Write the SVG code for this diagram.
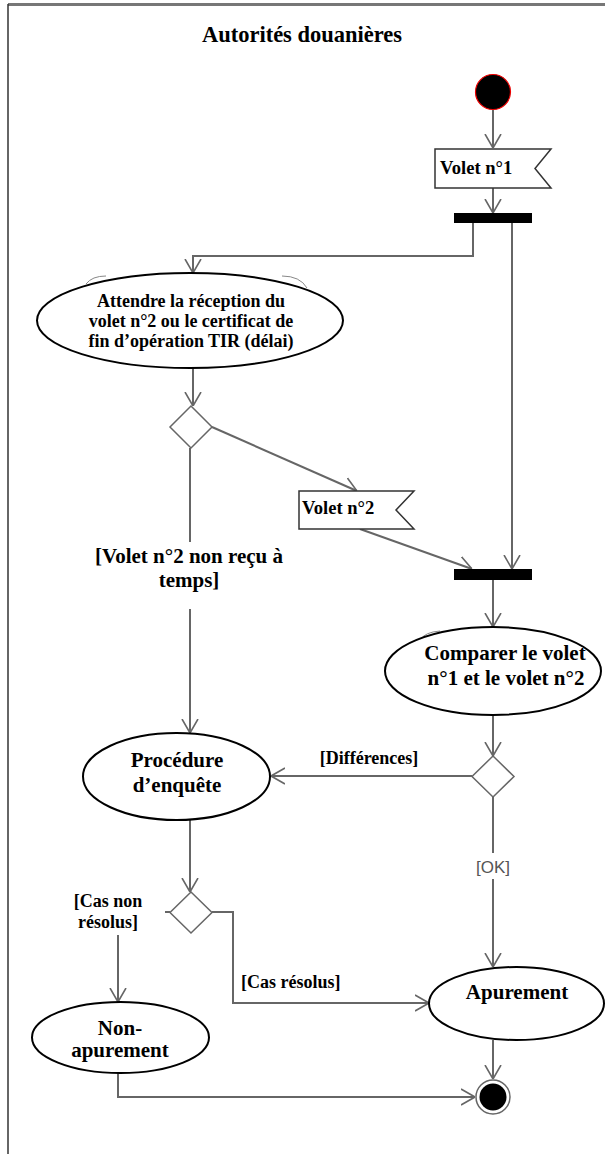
<svg xmlns="http://www.w3.org/2000/svg" width="605" height="1154" viewBox="0 0 605 1154">
  <style>
    .lbl { font-family: "Liberation Serif", "Times New Roman", serif; font-weight: bold; fill: #000; }
    .s18 { font-size: 18px; }
    .s185 { font-size: 18.6px; }
    .s21 { font-size: 21px; }
    .act { fill: #fff; stroke: #000; stroke-width: 2; }
    .ghost { fill: none; stroke: #888; stroke-width: 1; }
    .flow { fill: none; stroke: #666; stroke-width: 2; }
    .bar { fill: #000; }
    .dec { fill: #fff; stroke: #666; stroke-width: 1.5; }
    .sig { fill: #fff; stroke: #333; stroke-width: 1.5; }
    .guard { font-family: "Liberation Sans", Arial, sans-serif; font-size: 17px; fill: #555; }
  </style>
  <defs>
    <marker id="open" viewBox="0 0 14 18" refX="14" refY="9" markerWidth="14" markerHeight="18" markerUnits="userSpaceOnUse" orient="auto">
      <path d="M0,1 L14,9 L0,17" fill="none" stroke="#666" stroke-width="1.6"/>
    </marker>
  </defs>

  <rect width="605" height="1154" fill="#fff"/>

  <!-- swimlane frame -->
  <g id="frame">
    <line x1="8" y1="4.5" x2="605" y2="4.5" stroke="#777" stroke-width="3"/>
    <line x1="8" y1="4" x2="8" y2="1154" stroke="#333" stroke-width="1.5"/>
    <text class="lbl" x="302" y="42" font-size="22.5" text-anchor="middle">Autorités douanières</text>
  </g>

  <!-- connectors -->
  <g id="connectors">
    <line class="flow" x1="493" y1="110" x2="493" y2="148" marker-end="url(#open)"/>
    <line class="flow" x1="493" y1="188" x2="493" y2="213" marker-end="url(#open)"/>
    <path class="flow" d="M473,223 V256 H193 V273" marker-end="url(#open)"/>
    <line class="flow" x1="512" y1="223" x2="512" y2="569" marker-end="url(#open)"/>
    <line class="flow" x1="193" y1="368" x2="193" y2="406" marker-end="url(#open)"/>
    <line class="flow" x1="212" y1="427" x2="357" y2="491" marker-end="url(#open)"/>
    <line class="flow" x1="360" y1="529" x2="472" y2="569" marker-end="url(#open)"/>
    <line class="flow" x1="190" y1="448" x2="190" y2="542"/>
    <line class="flow" x1="190" y1="609" x2="190" y2="733" marker-end="url(#open)"/>
    <line class="flow" x1="493" y1="580" x2="493" y2="627" marker-end="url(#open)"/>
    <line class="flow" x1="493" y1="715" x2="493" y2="756" marker-end="url(#open)"/>
    <line class="flow" x1="472" y1="776" x2="271" y2="776" marker-end="url(#open)"/>
    <line class="flow" x1="493" y1="797" x2="493" y2="853"/>
    <line class="flow" x1="493" y1="879" x2="493" y2="967" marker-end="url(#open)"/>
    <line class="flow" x1="190" y1="820" x2="190" y2="892" marker-end="url(#open)"/>
    <line class="flow" x1="170" y1="912" x2="165" y2="912"/>
    <line class="flow" x1="118" y1="935" x2="118" y2="1002" marker-end="url(#open)"/>
    <path class="flow" d="M212,912 H233 V1003 H429" marker-end="url(#open)"/>
    <line class="flow" x1="493" y1="1040" x2="493" y2="1079" marker-end="url(#open)"/>
    <path class="flow" d="M118,1073 V1097 H475" marker-end="url(#open)"/>

    <text class="lbl s21" x="189" y="563" text-anchor="middle">[Volet n°2 non reçu à</text>
    <text class="lbl s21" x="189" y="587" text-anchor="middle">temps]</text>
    <text class="lbl s18" x="369" y="764" text-anchor="middle">[Différences]</text>
    <text class="guard" x="493" y="873" text-anchor="middle">[OK]</text>
    <text class="lbl s18" x="108" y="907" text-anchor="middle">[Cas non</text>
    <text class="lbl s18" x="108" y="928" text-anchor="middle">résolus]</text>
    <text class="lbl s18" x="241" y="988">[Cas résolus]</text>
  </g>

  <!-- start -->
  <g id="start">
    <circle cx="493" cy="92" r="17.5" fill="#000" stroke="#e00" stroke-width="1.2"/>
  </g>

  <!-- signal: Volet n°1 -->
  <g id="volet1">
    <path class="sig" d="M435,149 H551 L535,168.5 L551,188 H435 Z"/>
    <text class="lbl s185" x="440" y="174">Volet n°1</text>
  </g>

  <g id="fork">
    <rect class="bar" x="454" y="213" width="78" height="10"/>
  </g>

  <g id="attendre">
    <path class="ghost" d="M86,284 Q92,276 106,276"/>
    <path class="ghost" d="M282,276 Q300,276 307,288"/>
    <ellipse class="act" cx="190" cy="320.5" rx="153" ry="47.5"/>
    <text class="lbl s18" x="191" y="307" text-anchor="middle">Attendre la réception du</text>
    <text class="lbl s18" x="191" y="327" text-anchor="middle">volet n°2 ou le certificat de</text>
    <text class="lbl s18" x="191" y="347" text-anchor="middle">fin d’opération TIR (délai)</text>
  </g>

  <g id="decision1">
    <path class="dec" d="M191,406 L212,427 L191,448 L170,427 Z"/>
  </g>

  <!-- signal: Volet n°2 -->
  <g id="volet2">
    <path class="sig" d="M299,491 H414 L396,510 L414,529 H299 Z"/>
    <text class="lbl s185" x="302" y="514">Volet n°2</text>
  </g>

  <g id="join">
    <rect class="bar" x="454" y="569" width="78" height="11"/>
  </g>

  <g id="comparer">
    <path class="ghost" d="M420,640 Q425,632 440,631"/>
    <ellipse class="act" cx="493" cy="671" rx="108" ry="44"/>
    <text class="lbl s21" x="505" y="660" text-anchor="middle">Comparer le volet</text>
    <text class="lbl s21" x="506" y="685" text-anchor="middle">n°1 et le volet n°2</text>
  </g>

  <g id="decision2">
    <path class="dec" d="M493,756 L514,776.5 L493,797 L472,776.5 Z"/>
  </g>

  <g id="enquete">
    <ellipse class="act" cx="176.5" cy="776.5" rx="93.5" ry="43.5"/>
    <text class="lbl s21" x="177" y="767" text-anchor="middle">Procédure</text>
    <text class="lbl s21" x="177" y="792" text-anchor="middle">d’enquête</text>
  </g>

  <g id="decision3">
    <path class="dec" d="M191,892 L212,912.5 L191,933 L170,912.5 Z"/>
  </g>

  <g id="non-apurement">
    <ellipse class="act" cx="120.5" cy="1037.5" rx="88.5" ry="35.5"/>
    <text class="lbl s21" x="120" y="1035" text-anchor="middle">Non-</text>
    <text class="lbl s21" x="120" y="1057" text-anchor="middle">apurement</text>
  </g>

  <g id="apurement">
    <ellipse class="act" cx="516.5" cy="1003.5" rx="87.5" ry="36.5"/>
    <text class="lbl s21" x="517" y="999" text-anchor="middle">Apurement</text>
  </g>

  <g id="end">
    <circle cx="493" cy="1097" r="17" fill="#fff" stroke="#666" stroke-width="1.5"/>
    <circle cx="493" cy="1097" r="13.5" fill="#000"/>
  </g>
</svg>
